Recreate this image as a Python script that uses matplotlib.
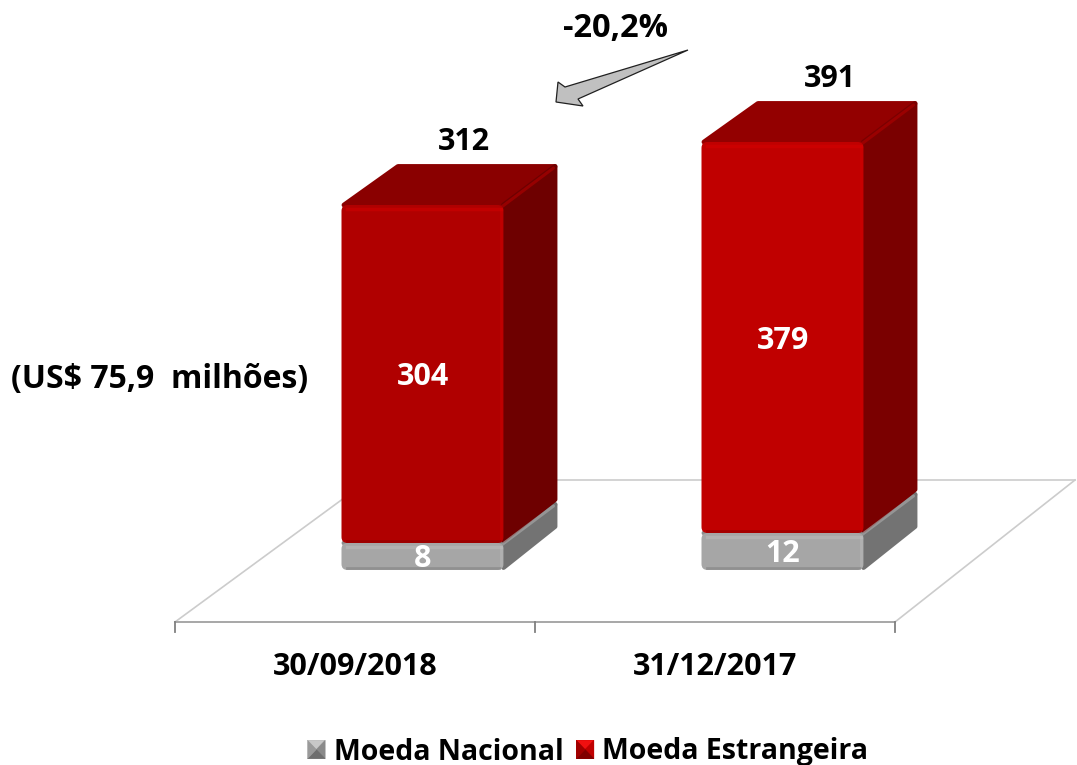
import numpy as np
import matplotlib
matplotlib.use('Agg')
import matplotlib.pyplot as plt
from matplotlib.patches import Polygon, FancyBboxPatch

W, H = 1077, 765

categories = ['30/09/2018', '31/12/2017']
moeda_nacional = [8, 12]
moeda_estrangeira = [304, 379]
totais = [312, 391]
variacao = '-20,2%'
nota = '(US$ 75,9  milhões)'

# the source chart's value axis is not linear, these knots follow its bars
scale_vals = [0, 8, 12, 312, 391]
scale_px = [0, 27, 37, 365, 428]

plt.rcParams['font.family'] = ['Open Sans', 'DejaVu Sans']
plt.rcParams['font.weight'] = 'bold'


def forward(v):
    return np.interp(v, scale_vals, scale_px)


def inverse(p):
    return np.interp(p, scale_px, scale_vals)


fig = plt.figure(figsize=(W / 100, H / 100), dpi=100)


def pixel_axes(z):
    a = fig.add_axes([0, 0, 1, 1], zorder=z)
    a.set_xlim(0, W)
    a.set_ylim(H, 0)
    a.axis('off')
    a.patch.set_alpha(0)
    return a


# pixel axes for the floor, the 3d faces and the loose texts
bg = pixel_axes(0)

# value axes, bottom edge on the bar base
base_y, top_y = 570, 142
ax = fig.add_axes([0, (H - base_y) / H, 1, (base_y - top_y) / H], zorder=1)
ax.patch.set_alpha(0)
ax.set_yscale('function', functions=(forward, inverse))
ax.set_ylim(0, max(totais))
ax.set_xlim((0 - 422.5) / 360, (W - 422.5) / 360)
ax.axis('off')

x = np.arange(len(categories))
bar_w = 162 / 360
bars_n = ax.bar(x, moeda_nacional, bar_w, color='#a6a6a6', label='Moeda Nacional')
bars_e = ax.bar(x, moeda_estrangeira, bar_w, bottom=moeda_nacional, color='#b80000',
                label='Moeda Estrangeira')

leg = ax.legend(ncol=2, loc='center', bbox_to_anchor=(588 / W, (H - 752) / H),
                bbox_transform=fig.transFigure, frameon=False, fontsize=20.5,
                handlelength=0.62, handleheight=0.62, handletextpad=0.3, columnspacing=0.45,
                borderpad=0, labelcolor='black')
fig.canvas.draw()

# floor
floor = dict(color='#cccccc', lw=1.2, zorder=1)
bg.plot([175, 355], [622, 490], **floor)
bg.plot([895, 1075], [622, 480], **floor)
bg.plot([540, 1075], [480, 480], **floor)
bg.plot([175, 895], [622, 622], color='#a0a0a0', lw=1.3, zorder=1)
for t in [175, 535, 895]:
    bg.plot([t, t], [622, 632], color='#808080', lw=1.3, zorder=1)


def to_px(xv, yv):
    px, py = ax.transData.transform((xv, yv))
    return px, H - py


def block(rect, front, top_col, side_col, hi, lo, diag):
    # front face comes from the bar itself, the rest is offset by the depth
    dx, dy = 54, 41
    x0, y1 = to_px(rect.get_x(), rect.get_y())
    x1, y0 = to_px(rect.get_x() + rect.get_width(), rect.get_y() + rect.get_height())
    r = 2.5
    bg.add_patch(Polygon([(x0 + r, y0), (x0 + dx + r, y0 - dy + r), (x1 + dx - r, y0 - dy + r), (x1, y0)],
                         fc=top_col, ec=top_col, lw=3.5, joinstyle='round', zorder=3))
    bg.add_patch(Polygon([(x1, y0), (x1 + dx - r, y0 - dy + r), (x1 + dx - r, y1 - dy - r), (x1, y1 - r)],
                         fc=side_col, ec=side_col, lw=3.5, joinstyle='round', zorder=3))
    bg.plot([x1 - 2, x1 + dx - 4], [y0 + 2, y0 - dy + 4], color=diag, lw=2.2, alpha=0.7, zorder=3.5,
            solid_capstyle='round')
    bg.add_patch(FancyBboxPatch((x0 + 5, y0 + 5), x1 - x0 - 10, y1 - y0 - 10,
                                boxstyle='round,pad=5,rounding_size=6',
                                fc=front, ec='none', zorder=4))
    # soft bevel along the edges
    bg.plot([x0 + 5, x1 - 3], [y0 + 4, y0 + 4], color=hi, lw=2.5, alpha=0.4, zorder=4.5)
    bg.plot([x1 - 3, x1 - 3], [y0 + 4, y1 - 5], color=hi, lw=2, alpha=0.35, zorder=4.5)
    bg.plot([x0 + 5, x1 - 5], [y1 - 2, y1 - 2], color=lo, lw=2, alpha=0.5, zorder=4.5)


fronts = ['#b00000', '#c00000']
tops = ['#8a0000', '#930000']
sides = ['#6e0000', '#7a0000']
for i in x:
    n, e = moeda_nacional[i], moeda_estrangeira[i]
    block(bars_n[i], '#a6a6a6', '#8c8c8c', '#737373', '#c4c4c4', '#7c7c7c', '#a4a4a4')
    block(bars_e[i], fronts[i], tops[i], sides[i], '#dc0000', '#8a0000', '#a80000')
    bars_n[i].set_alpha(0)
    bars_e[i].set_alpha(0)

    # value labels, centred on the segment in pixel terms
    ym = inverse((forward(n) + forward(n + e)) / 2)
    ax.annotate(str(e), (i, ym), xytext=(0, -2.5), textcoords='offset points', color='white',
                fontsize=22, ha='center', va='center')
    ax.annotate(str(n), (i, inverse(forward(n) / 2)), xytext=(0, -2), textcoords='offset points',
                color='white', fontsize=22, ha='center', va='center')

    tx, ty = to_px(i, totais[i])
    bg.text(tx + 41 + 6 * i, ty - 63, str(totais[i]), color='black', fontsize=22, ha='center', va='center')
    bg.text(355 + 360 * i, 667, categories[i], color='black', fontsize=22, ha='center', va='center')

bg.text(160, 379, nota, fontsize=23, ha='center', va='center', color='black')
bg.text(615, 28, variacao, fontsize=23.5, ha='center', va='center', color='black')

arrow = [(688, 50), (565, 87), (558, 82), (556, 102), (583, 106), (578, 99)]
bg.add_patch(Polygon(arrow, fc='#c0c0c0', ec='#202020', lw=0.9, zorder=3))

# bevel on the legend swatches
top = pixel_axes(2)
shades = [('#c8c8c8', '#8a8a8a', '#6e6e6e', '#9a9a9a'), ('#f01010', '#c00000', '#800000', '#a00000')]
fig.canvas.draw()
for handle, sh in zip(leg.legend_handles, shades):
    b = handle.get_window_extent()
    x0, x1, y0, y1 = b.x0, b.x1, H - b.y1, H - b.y0
    xc, yc = (x0 + x1) / 2, (y0 + y1) / 2
    corners = [(x0, y0), (x1, y0), (x1, y1), (x0, y1)]
    for k, c in enumerate(sh):
        top.add_patch(Polygon([corners[k], corners[(k + 1) % 4], (xc, yc)], fc=c, ec=c, lw=0.3))

fig.savefig('out.png', dpi=100)
